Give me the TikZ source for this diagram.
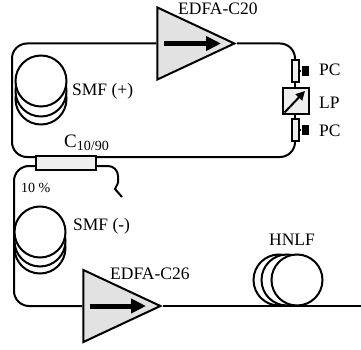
\documentclass[tikz,border=0pt]{standalone}
\usepackage{fontspec}
\setmainfont{Liberation Serif}
\usepackage{xcolor}
\usepackage{tikz}
\usetikzlibrary{arrows.meta,positioning,calc,shapes.geometric}
\definecolor{ampgray}{RGB}{226, 226, 226}
\definecolor{partgray}{RGB}{238, 238, 238}
\tikzset{
  fiber/.style={
    line width=2pt,
    draw=black,
    rounded corners=15pt
  },
  ampbox/.style={
    draw=black,
    line width=2pt,
    fill=ampgray,
    isosceles triangle,
    isosceles triangle stretches,
    shape border rotate=0,
    minimum width=72pt,
    minimum height=77pt,
    inner sep=0pt
  },
  amparrow/.style={
    -{Triangle[length=15pt,width=14pt]},
    line width=5pt,
    draw=black
  },
  coilbox/.style={
    circle,
    draw=black,
    line width=2pt,
    fill=white,
    minimum size=51pt,
    inner sep=0pt
  },
  pcbox/.style={
    draw=black,
    line width=2pt,
    fill=partgray,
    minimum width=7pt,
    minimum height=22pt,
    inner sep=0pt
  },
  knobbox/.style={
    fill=black,
    minimum width=7pt,
    minimum height=10pt,
    inner sep=0pt
  },
  label/.style={
    inner sep=0pt,
    font=\fontsize{17.5}{20}\selectfont
  }
}
\begin{document}
\begin{tikzpicture}[x=1pt,y=-1pt]
  \useasboundingbox (0,0) rectangle (361,350);

  % amplifiers
  \node[ampbox, anchor=apex] (ampc) at (237,43.5) {};
  \node[ampbox, anchor=apex] (ampd) at (163,306) {};
  \coordinate (ampcin) at (164,43.5);
  \coordinate (ampdin) at (90,306);
  \coordinate (ampcout) at (221,43.5);
  \coordinate (ampdout) at (146,306);
  \draw[amparrow] (ampcin) -- (ampcout);
  \draw[amparrow] (ampdin) -- (ampdout);

  % polarisation parts
  \node[pcbox] (pca) at (295,71) {};
  \node[pcbox] (pcb) at (295,130) {};
  \node[knobbox] (knoba) at (305,71) {};
  \node[knobbox] (knobb) at (305,130) {};
  \node[draw=black, line width=2pt, fill=partgray, minimum size=26pt, inner sep=0pt] (lp) at (296,101) {};
  \coordinate (lpin) at (284.5,112.5);
  \coordinate (lpout) at (305,91);
  \draw[line width=2pt] (pca) -- (knoba);
  \draw[line width=2pt] (pcb) -- (knobb);
  \draw[line width=2pt] (pca) -- (pca |- lp.north);
  \draw[line width=2pt] (pcb) -- (pcb |- lp.south);
  \draw[-{Triangle[length=9pt,width=9pt]}, line width=2pt] (lpin) -- (lpout);

  % coupler
  \node[draw=black, line width=2pt, fill=partgray, minimum width=60pt, minimum height=14pt, inner sep=0pt] (coup) at (66,163) {};
  \coordinate (coupa) at ($(coup.north west)+(0,2)$);
  \coordinate (coupb) at ($(coup.north east)+(0,2)$);
  \coordinate (coupc) at ($(coup.south west)+(0,-5)$);
  \coordinate (coupd) at ($(coup.south east)+(0,-5)$);
  \coordinate (coupe) at (118,183);
  \coordinate (coupf) at (122,197);

  % fibre
  \draw[fiber] (ampc.apex) -| (pca.north);
  \draw[fiber] (pcb.south) |- (coupb);
  \draw[fiber] (coupa) -| (12,100) |- (ampc.west |- ampc.apex);
  \draw[fiber] (coupc) -| (14,240) |- (ampd.west |- ampd.apex);
  \draw[fiber] (ampd.apex) -- (361,306);
  \draw[fiber, rounded corners=10pt] (coupd) -| (coupe);
  \draw[line width=2pt] (coupe) -- (115,189) -- (coupf);

  % coils
  \node[coilbox] (smfpc) at (41,99) {};
  \node[coilbox] (smfpb) at (41,91) {};
  \node[coilbox] (smfpa) at (41,81) {};
  \node[coilbox] (smfmc) at (40,248) {};
  \node[coilbox] (smfmb) at (40,241) {};
  \node[coilbox] (smfma) at (40,232) {};
  \node[coilbox] (hnlfc) at (279,280) {};
  \node[coilbox] (hnlfb) at (287,280) {};
  \node[coilbox] (hnlfa) at (297,280) {};

  % labels
  \node[label, anchor=west] (smfptext) at (72,91.5) {SMF (+)};
  \node[label, anchor=west] (smfmtext) at (73,226.5) {SMF (-)};
  \node[label, anchor=west] (edfactext) at (178,9) {EDFA-C20};
  \node[label, anchor=west] (edfadtext) at (110,274) {EDFA-C26};
  \node[label] (hnlftext) at (292,240) {HNLF};
  \node[label, anchor=west] (pcatext) at (319,70) {PC};
  \node[label, anchor=west] (lptext) at (319,103) {LP};
  \node[label, anchor=west] (pcbtext) at (319,131) {PC};
  \node[label, anchor=base west] (couptext) at (64,147.5) {{\fontsize{19}{20}\selectfont C}{\fontsize{14}{16}\selectfont\raisebox{-3pt}{10/90}}};
  \node[inner sep=0pt, font=\fontsize{14}{16}\selectfont, anchor=west] (tentext) at (21,188) {10 \%};
\end{tikzpicture}
\end{document}
